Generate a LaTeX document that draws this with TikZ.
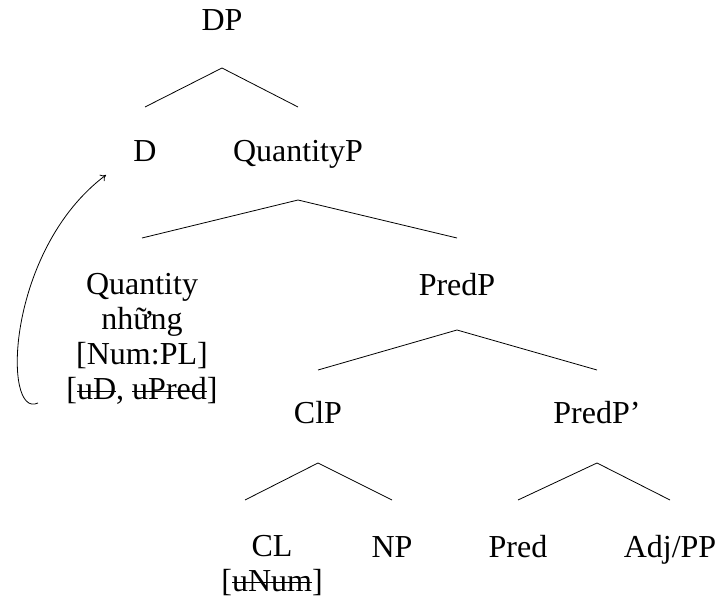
\documentclass[tikz,border=0pt]{standalone}
\usepackage{fontspec}
\setmainfont{Liberation Serif}
\usepackage{tikz}
\usetikzlibrary{positioning,arrows.meta}
\newcommand\strk[1]{\setbox0\hbox{#1}\rlap{\rule[0.24em]{\wd0}{0.045em}}\box0}

\begin{document}
\begin{tikzpicture}[x=0.75pt,y=-0.75pt,
  lbl/.style={anchor=base,align=center,inner sep=0pt,font=\fontsize{24}{26.25}\selectfont},
  branch/.style={line width=0.6pt}]
 \useasboundingbox (0,0) rectangle (718,602);
 % labels
 \node[lbl] (dp)    at (222,31)  {DP};
 \node[lbl] (d)     at (145,162) {D};
 \node[lbl] (qp)    at (298,162) {QuantityP};
 \node[lbl] (qty)   at (142,400) {Quantity\\những\\{[Num:PL]}\\{[\strk{uD}, \strk{uPred}]}};
 \node[lbl] (predp) at (457,296) {PredP};
 \node[lbl] (clp)   at (318,424) {ClP};
 \node[lbl] (predpp) at (597,424) {PredP'};
 \node[lbl] (cl)    at (272,591) {CL\\{[\strk{uNum}]}};
 \node[lbl] (np)    at (392,557) {NP};
 \node[lbl] (pred)  at (518,557) {Pred};
 \node[lbl] (adjpp) at (670,557) {Adj/PP};
 % branch points
 \coordinate (dp-b) at (222,68);    \coordinate (d-t) at (145,107);  \coordinate (qp-t) at (298,107);
 \coordinate (qp-b) at (298,200);   \coordinate (qty-t) at (142,238); \coordinate (predp-t) at (457,238);
 \coordinate (predp-b) at (457,330); \coordinate (clp-t) at (318,370); \coordinate (predpp-t) at (597,370);
 \coordinate (clp-b) at (318,463);  \coordinate (cl-t) at (245,500);  \coordinate (np-t) at (392,500);
 \coordinate (predpp-b) at (597,463); \coordinate (pred-t) at (518,500); \coordinate (adjpp-t) at (670,500);
 \draw[branch] (d-t) -- (dp-b) -- (qp-t);
 \draw[branch] (qty-t) -- (qp-b) -- (predp-t);
 \draw[branch] (clp-t) -- (predp-b) -- (predpp-t);
 \draw[branch] (cl-t) -- (clp-b) -- (np-t);
 \draw[branch] (pred-t) -- (predpp-b) -- (adjpp-t);
 % movement
 \coordinate (mv-s) at (38,403); \coordinate (mv-e) at (106,175);
 \draw[branch,-{To[length=4pt,width=6pt]}] (mv-s) .. controls (2,420) and (6,250) .. (mv-e);
\end{tikzpicture}
\end{document}
